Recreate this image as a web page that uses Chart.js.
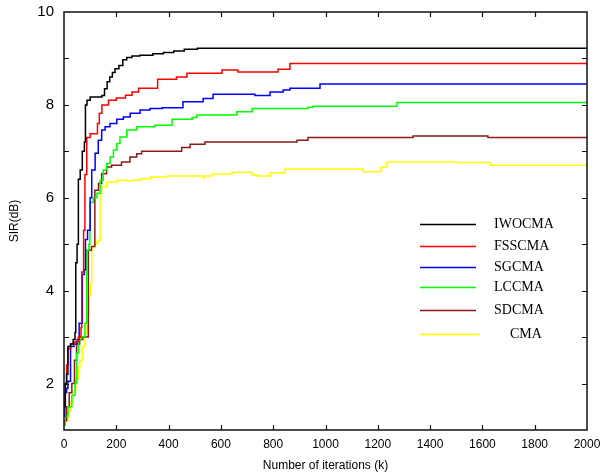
<!DOCTYPE html>
<html>
<head>
<meta charset="utf-8">
<script src="https://cdn.jsdelivr.net/npm/chart.js@4/dist/chart.umd.min.js"></script>
<style>
  html, body { margin: 0; padding: 0; background: #fff; }
  #wrap { width: 607px; height: 475px; position: relative; }
</style>
</head>
<body>
<div id="wrap"><canvas id="c" width="607" height="475"></canvas></div>
<script>
// Series names
const seriesNames = ['IWOCMA', 'FSSCMA', 'SGCMA', 'LCCMA', 'SDCMA', 'CMA'];
const seriesColors = ['#000000', '#ff0000', '#0000ff', '#00ff00', '#8b1a1a', '#ffff00'];

// [iteration, SIR(dB)] — level changes to y at x
const iwocma = [[0,1.5],[5,2.0],[10,2.2],[15,2.8],[25,2.85],[35,2.95],[42,3.1],[45,4.6],[50,5.0],[55,6.4],[62,6.6],[70,7.0],[78,7.2],[82,8.0],[88,8.1],[100,8.17],[145,8.2],[155,8.35],[165,8.5],[175,8.6],[185,8.7],[195,8.78],[210,8.85],[225,8.97],[240,9.02],[260,9.05],[290,9.07],[340,9.1],[380,9.13],[420,9.16],[460,9.2],[510,9.22],[2000,9.22]];
const fsscma = [[0,1.6],[5,2.0],[10,2.4],[15,2.75],[25,2.85],[40,2.9],[55,3.0],[65,3.2],[68,4.4],[75,5.3],[80,6.5],[87,7.3],[100,7.38],[128,7.6],[135,7.82],[145,8.0],[170,8.1],[200,8.15],[235,8.21],[260,8.28],[285,8.36],[358,8.55],[430,8.6],[470,8.68],[604,8.75],[665,8.71],[818,8.77],[864,8.89],[2000,8.89]];
const sgcma = [[0,1.3],[3,1.8],[10,1.9],[15,2.05],[25,2.8],[38,2.85],[50,2.95],[58,3.3],[70,4.35],[78,4.45],[82,5.1],[90,5.3],[100,6.0],[106,6.6],[119,6.96],[131,7.24],[144,7.46],[157,7.53],[176,7.6],[202,7.69],[227,7.74],[253,7.82],[291,7.89],[329,7.92],[375,7.94],[455,8.07],[532,8.14],[570,8.23],[730,8.2],[788,8.28],[838,8.32],[864,8.36],[979,8.45],[2000,8.45]];
const lccma = [[0,1.1],[5,1.3],[15,1.5],[30,1.75],[42,2.0],[48,2.65],[55,2.93],[65,3.0],[80,3.3],[87,4.87],[95,5.0],[99,5.9],[112,6.0],[126,6.1],[138,6.38],[150,6.6],[163,6.74],[176,6.88],[189,7.03],[202,7.17],[214,7.31],[240,7.46],[278,7.53],[348,7.56],[413,7.69],[490,7.73],[508,7.78],[661,7.85],[719,7.92],[933,7.95],[952,7.97],[1273,8.05],[2000,8.05]];
const sdcma = [[0,1.2],[10,1.5],[20,1.8],[30,2.0],[40,2.5],[48,2.85],[60,2.95],[72,3.0],[93,4.87],[105,4.95],[118,6.16],[132,6.31],[144,6.52],[163,6.66],[182,6.7],[220,6.77],[252,6.88],[278,6.95],[297,7.0],[450,7.08],[482,7.15],[539,7.2],[891,7.24],[933,7.3],[1335,7.33],[1621,7.3],[2000,7.3]];
const cma = [[0,1.1],[5,1.2],[15,1.4],[25,1.6],[35,1.85],[45,2.1],[55,2.35],[61,2.5],[70,2.8],[80,3.08],[88,3.3],[93,3.5],[97,3.9],[102,4.16],[106,4.94],[115,5.0],[125,5.05],[131,5.09],[138,6.09],[144,6.24],[163,6.34],[201,6.38],[239,6.36],[260,6.38],[291,6.41],[330,6.45],[394,6.47],[532,6.43],[540,6.47],[566,6.51],[642,6.55],[719,6.49],[737,6.47],[788,6.54],[845,6.62],[1144,6.56],[1212,6.66],[1235,6.77],[1499,6.76],[1629,6.7],[2000,6.7]];

const seriesData = [iwocma, fsscma, sgcma, lccma, sdcma, cma];

// Axis settings
const xMin = 0, xMax = 2000, xStep = 200;
const yMin = 1, yMax = 10, yStep = 1;
const yLabelValues = [2, 4, 6, 8, 10];

const datasets = seriesNames.map((name, i) => ({
  label: name,
  data: seriesData[i].map(p => ({ x: p[0], y: p[1] })),
  borderColor: seriesColors[i],
  backgroundColor: seriesColors[i],
  borderWidth: 1.5,
  pointRadius: 0,
  stepped: true,
  fill: false,
  tension: 0
}));

// Frame, inward ticks and in-plot legend
const framePlugin = {
  id: 'frame',
  afterDraw(chart) {
    const ctx = chart.ctx;
    const a = chart.chartArea;
    const xs = chart.scales.x, ys = chart.scales.y;
    ctx.save();
    ctx.strokeStyle = '#111';
    ctx.lineWidth = 1.5;
    ctx.strokeRect(a.left, a.top, a.right - a.left, a.bottom - a.top);
    ctx.lineWidth = 1.2;
    ctx.beginPath();
    for (let v = xMin + xStep; v < xMax; v += xStep) {
      const px = Math.round(xs.getPixelForValue(v)) + 0.5;
      ctx.moveTo(px, a.bottom); ctx.lineTo(px, a.bottom - 5);
      ctx.moveTo(px, a.top); ctx.lineTo(px, a.top + 5);
    }
    for (let v = yMin + yStep; v < yMax; v += yStep) {
      const py = Math.round(ys.getPixelForValue(v)) + 0.5;
      ctx.moveTo(a.left, py); ctx.lineTo(a.left + 5, py);
      ctx.moveTo(a.right, py); ctx.lineTo(a.right - 5, py);
    }
    ctx.stroke();

    // legend
    const legY = [224, 246, 267, 287, 310, 334];
    ctx.font = '14px "Liberation Serif", "Times New Roman", serif';
    ctx.textBaseline = 'middle';
    ctx.textAlign = 'left';
    chart.data.datasets.forEach((ds, i) => {
      const y = legY[i] + 0.5;
      const isLast = i === chart.data.datasets.length - 1;
      ctx.strokeStyle = ds.borderColor;
      ctx.lineWidth = 1.5;
      ctx.beginPath();
      ctx.moveTo(420, y);
      ctx.lineTo(isLast ? 480 : 476, y);
      ctx.stroke();
      ctx.fillStyle = '#000';
      ctx.fillText(ds.label, isLast ? 510 : 494, y);
    });
    ctx.restore();
  }
};

new Chart(document.getElementById('c'), {
  type: 'line',
  data: { datasets },
  options: {
    responsive: false,
    animation: false,
    events: [],
    layout: { padding: { top: 12, right: 20, left: 0, bottom: 0 } },
    plugins: { legend: { display: false }, tooltip: { enabled: false } },
    scales: {
      x: {
        type: 'linear',
        min: xMin, max: xMax,
        afterFit: s => { s.height = 45; s.paddingLeft = 0; s.paddingRight = 0; },
        ticks: {
          stepSize: xStep,
          autoSkip: false,
          maxRotation: 0,
          padding: 7,
          color: '#000',
          font: { family: '"Liberation Sans", Arial, sans-serif', size: 12 },
          callback: v => String(v)
        },
        grid: { display: false, drawTicks: false },
        border: { display: false },
        title: {
          display: true,
          text: 'Number of iterations (k)',
          color: '#000',
          font: { family: '"Liberation Sans", Arial, sans-serif', size: 12 },
          padding: { top: 0, bottom: 2 }
        }
      },
      y: {
        type: 'linear',
        min: yMin, max: yMax,
        afterFit: s => { s.width = 64; s.paddingTop = 0; s.paddingBottom = 0; },
        ticks: {
          stepSize: yStep,
          autoSkip: false,
          padding: 10,
          color: '#000',
          font: { family: '"Liberation Sans", Arial, sans-serif', size: 15 },
          callback: v => yLabelValues.includes(v) ? String(v) : ''
        },
        grid: { display: false, drawTicks: false },
        border: { display: false },
        title: {
          display: true,
          text: 'SIR(dB)',
          color: '#000',
          font: { family: '"Liberation Sans", Arial, sans-serif', size: 12 },
          padding: { top: 7, bottom: 0 }
        }
      }
    }
  },
  plugins: [framePlugin]
});
</script>
</body>
</html>
